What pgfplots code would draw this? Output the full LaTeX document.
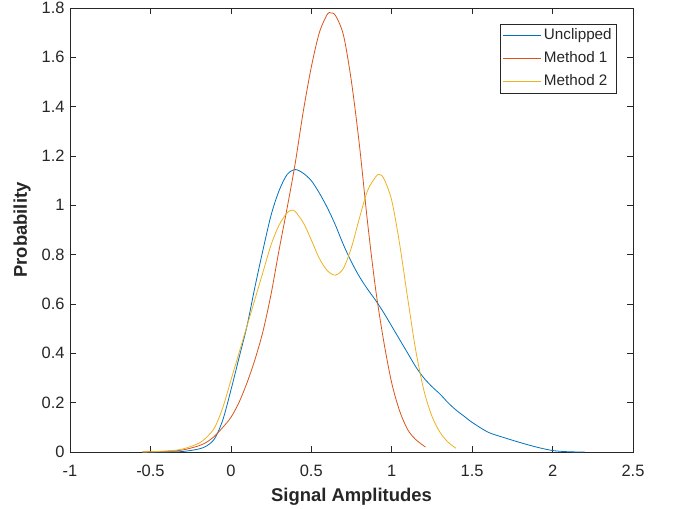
\documentclass[border=0pt]{standalone}
\usepackage{pgfplots}
\pgfplotsset{compat=1.18}
\usepackage{fontspec}
\setmainfont{Liberation Sans}
\definecolor{mblue}{rgb}{0,0.447,0.741}
\definecolor{mred}{rgb}{0.85,0.325,0.098}
\definecolor{myellow}{rgb}{0.929,0.694,0.125}
\definecolor{axgray}{rgb}{0.15,0.15,0.15}
\begin{document}
\begin{tikzpicture}
\begin{axis}[name=ax,
  scale only axis, width=563bp, height=444bp,
  xmin=-1, xmax=2.5, ymin=0, ymax=1.8,
  xtick={-1,-0.5,0,0.5,1,1.5,2,2.5},
  ytick={0,0.2,0.4,0.6,0.8,1,1.2,1.4,1.6,1.8},
  /pgf/number format/assume math mode=true,
  tick align=inside, tick pos=both,
  major tick length=6bp,
  axis line style={axgray, line width=0.6pt},
  every tick/.style={axgray, line width=0.6pt},
  tick label style={font=\fontsize{16.5}{19}\selectfont, text=axgray},
  xticklabel style={yshift=-10bp},
  yticklabel style={xshift=-2bp},
  xlabel={\fontsize{18.5}{22}\selectfont\bfseries Signal Amplitudes},
  ylabel={\fontsize{18.5}{22}\selectfont\bfseries Probability},
  xlabel style={text=axgray, yshift=-4bp},
  ylabel style={text=axgray, yshift=4bp},
  legend style={at={(1,1)}, anchor=north east, xshift=-16bp, yshift=-16bp,
    font=\fontsize{15.3}{17}\selectfont, draw=axgray, line width=0.6pt,
    inner xsep=3bp, inner ysep=0bp, cells={anchor=west},
    nodes={text height=11bp, text depth=3.5bp, inner ysep=4.25bp, text=axgray},
    /tikz/column 2/.style={column sep=4bp}},
  legend cell align=left,
  legend image code/.code={\draw[#1, line width=0.9pt] (0bp,0bp) -- (38bp,0bp);},
  every axis plot/.append style={line width=0.8pt},
]
\addplot[mblue, smooth] coordinates {
(-0.55,0) (-0.4,0.0005) (-0.3,0.002) (-0.2,0.012) (-0.15,0.025) (-0.1,0.055) (-0.05,0.13)
(0,0.25) (0.05,0.38) (0.1,0.51) (0.15,0.67) (0.2,0.82) (0.25,0.96) (0.3,1.06) (0.35,1.125)
(0.4,1.145) (0.45,1.13) (0.5,1.10) (0.55,1.05) (0.6,0.99) (0.65,0.92) (0.7,0.84) (0.75,0.77)
(0.8,0.71) (0.85,0.66) (0.9,0.615) (0.95,0.565) (1.0,0.51) (1.05,0.455) (1.1,0.40) (1.15,0.345)
(1.2,0.30) (1.25,0.265) (1.3,0.235) (1.35,0.20) (1.4,0.17) (1.45,0.145) (1.5,0.12)
(1.6,0.08) (1.7,0.058) (1.8,0.038) (1.9,0.02) (2.0,0.006) (2.1,0.001) (2.2,0)
};
\addlegendentry{Unclipped}
\addplot[mred, smooth] coordinates {
(-0.55,0) (-0.4,0.003) (-0.3,0.008) (-0.2,0.025) (-0.15,0.04) (-0.1,0.065) (-0.05,0.1)
(0,0.14) (0.05,0.2) (0.1,0.28) (0.15,0.375) (0.2,0.49) (0.25,0.64) (0.3,0.82) (0.35,0.99)
(0.4,1.17) (0.45,1.38) (0.5,1.56) (0.55,1.70) (0.6,1.775) (0.62,1.78) (0.65,1.77) (0.7,1.69)
(0.75,1.50) (0.8,1.24) (0.85,0.93) (0.9,0.66) (0.95,0.45) (1.0,0.28) (1.05,0.165) (1.1,0.09)
(1.15,0.05) (1.21,0.02)
};
\addlegendentry{Method 1}
\addplot[myellow, smooth] coordinates {
(-0.55,0) (-0.4,0.004) (-0.3,0.012) (-0.2,0.035) (-0.15,0.06) (-0.1,0.10) (-0.05,0.18)
(0,0.29) (0.05,0.40) (0.1,0.51) (0.15,0.62) (0.2,0.73) (0.25,0.84) (0.3,0.92) (0.35,0.97)
(0.38,0.98) (0.4,0.975) (0.45,0.93) (0.5,0.86) (0.55,0.785) (0.6,0.735) (0.65,0.717)
(0.7,0.745) (0.75,0.83) (0.8,0.95) (0.85,1.06) (0.9,1.115) (0.92,1.125) (0.95,1.11)
(1.0,1.02) (1.05,0.84) (1.1,0.62) (1.15,0.41) (1.2,0.25) (1.25,0.145) (1.3,0.08)
(1.35,0.04) (1.4,0.015)
};
\addlegendentry{Method 2}
\end{axis}
\pgfresetboundingbox
\path ([xshift=-70bp,yshift=-57bp]ax.south west) rectangle ([xshift=40bp,yshift=8bp]ax.north east);
\end{tikzpicture}
\end{document}
